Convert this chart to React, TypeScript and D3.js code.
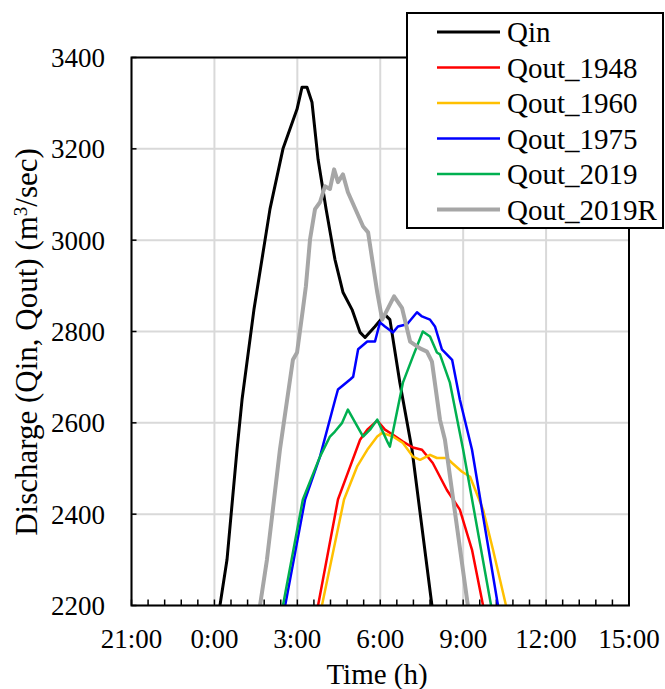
import React from "react";
import * as d3 from "d3";

// time in hours (relative to 0:00), discharge in m3/sec
const qinT = [0.2, 0.455, 0.817, 1.0, 1.43, 2.01, 2.48, 2.99, 3.17, 3.35, 3.53, 3.75, 4.04, 4.36, 4.65, 4.98, 5.27, 5.45, 5.81, 6.17, 6.35, 6.71, 7.15, 7.87];
const qinQ = [2200, 2300, 2541, 2651, 2848, 3068, 3200, 3287, 3335, 3335, 3302, 3177, 3068, 2958, 2886, 2848, 2798, 2787, 2811, 2837, 2826, 2688, 2541, 2200];

const q1948T = [3.75, 4.47, 4.91, 5.27, 5.53, 5.89, 6.17, 6.46, 6.82, 7.18, 7.51, 7.90, 8.41, 8.88, 9.32, 9.72];
const q1948Q = [2200, 2432, 2504, 2563, 2585, 2605, 2585, 2574, 2559, 2546, 2541, 2512, 2453, 2410, 2322, 2200];

const q1960T = [3.89, 4.69, 5.16, 5.53, 5.89, 6.07, 6.46, 6.82, 7.18, 7.44, 7.80, 8.05, 8.41, 8.60, 8.96, 9.25, 9.72, 10.08, 10.55];
const q1960Q = [2200, 2432, 2504, 2541, 2570, 2578, 2570, 2556, 2526, 2519, 2530, 2523, 2523, 2512, 2493, 2482, 2410, 2322, 2200];

const q1975T = [2.56, 3.28, 3.82, 4.37, 4.47, 4.91, 5.02, 5.20, 5.53, 5.81, 5.99, 6.17, 6.46, 6.64, 6.97, 7.33, 7.51, 7.80, 7.98, 8.23, 8.60, 8.88, 9.32, 10.26];
const q1975Q = [2200, 2432, 2526, 2651, 2673, 2695, 2701, 2761, 2778, 2778, 2820, 2811, 2798, 2811, 2816, 2842, 2833, 2826, 2811, 2761, 2738, 2651, 2541, 2200];

const q2019T = [2.48, 3.20, 3.82, 4.18, 4.36, 4.62, 4.83, 5.38, 5.63, 5.89, 6.28, 6.35, 6.82, 7.18, 7.54, 7.80, 8.05, 8.16, 8.52, 9.00, 10.01];
const q2019Q = [2200, 2432, 2526, 2570, 2581, 2600, 2629, 2570, 2585, 2607, 2556, 2548, 2688, 2745, 2800, 2789, 2754, 2750, 2688, 2541, 2200];

const q2019RT = [1.65, 1.90, 2.37, 2.84, 2.99, 3.20, 3.31, 3.46, 3.64, 3.82, 4.00, 4.18, 4.33, 4.47, 4.65, 4.83, 5.38, 5.56, 5.89, 6.07, 6.50, 6.79, 7.08, 7.44, 7.69, 7.87, 8.16, 8.34, 9.17];
const q2019RQ = [2200, 2300, 2541, 2738, 2754, 2848, 2899, 3002, 3068, 3083, 3118, 3112, 3155, 3127, 3144, 3105, 3030, 3017, 2886, 2826, 2877, 2851, 2778, 2763, 2756, 2734, 2607, 2563, 2200];

const seriesNames = ["Qin", "Qout_1948", "Qout_1960", "Qout_1975", "Qout_2019", "Qout_2019R"];
const seriesColors = ["#000000", "#ff0000", "#ffc000", "#0000ff", "#00b050", "#a6a6a6"];
const seriesWidths = [3, 2.5, 2.5, 2.5, 2.5, 4];
const seriesT = [qinT, q1948T, q1960T, q1975T, q2019T, q2019RT];
const seriesQ = [qinQ, q1948Q, q1960Q, q1975Q, q2019Q, q2019RQ];

const xTicks = [-3, 0, 3, 6, 9, 12, 15];
const yTicks = [2200, 2400, 2600, 2800, 3000, 3200, 3400];

const FONT = "'Liberation Serif', 'Times New Roman', serif";

export default function App() {
  const W = 665, H = 689;
  const left = 131.5, right = 629, top = 57.5, bottom = 605.5;
  const x = d3.scaleLinear().domain([-3, 15]).range([left, right]);
  const y = d3.scaleLinear().domain([2200, 3400]).range([bottom, top]);
  const minorTicks = d3.range(-3, 15.001, 0.6);
  const line = d3.line<[number, number]>().x(d => x(d[0])).y(d => y(d[1]));
  const fmt = (h: number) => `${(h + 24) % 24}:00`;

  const legX = 407, legY = 13, legW = 256, legH = 215;
  const rowY = (i: number) => 32 + i * 35.5;

  return (
    <svg width={W} height={H} style={{ position: "absolute", left: 0, top: 0, background: "#fff" }} fontFamily={FONT}>
      <defs>
        <clipPath id="plotClip">
          <rect x={left} y={top} width={right - left} height={bottom - top} />
        </clipPath>
      </defs>
      <rect x={0} y={0} width={W} height={H} fill="#fff" />
      {/* gridlines */}
      {xTicks.map(t => (
        <line key={"gx" + t} x1={x(t)} x2={x(t)} y1={top} y2={bottom} stroke="#d9d9d9" strokeWidth={2} />
      ))}
      {yTicks.map(v => (
        <line key={"gy" + v} x1={left} x2={right} y1={y(v)} y2={y(v)} stroke="#d9d9d9" strokeWidth={2} />
      ))}
      {/* ticks */}
      {minorTicks.map((t, i) => (
        <line key={"mt" + i} x1={x(t)} x2={x(t)} y1={bottom} y2={bottom - 6} stroke="#000" strokeWidth={1.5} />
      ))}
      {yTicks.map(v => (
        <line key={"yt" + v} x1={left} x2={left + 5} y1={y(v)} y2={y(v)} stroke="#000" strokeWidth={1.5} />
      ))}
      {/* series */}
      <g clipPath="url(#plotClip)">
        {seriesNames.map((n, i) => (
          <path
            key={n}
            d={line(seriesT[i].map((t, j) => [t, seriesQ[i][j]] as [number, number])) || ""}
            fill="none"
            stroke={seriesColors[i]}
            strokeWidth={seriesWidths[i]}
            strokeLinejoin="round"
          />
        ))}
      </g>
      {/* frame */}
      <rect x={left} y={top} width={right - left} height={bottom - top} fill="none" stroke="#000" strokeWidth={2} />
      {/* tick labels */}
      {yTicks.map(v => (
        <text key={"yl" + v} x={105} y={y(v)} dy="0.35em" textAnchor="end" fontSize={27} fill="#000">{v}</text>
      ))}
      {xTicks.map(t => (
        <text key={"xl" + t} x={x(t)} y={648} textAnchor="middle" fontSize={27} fill="#000">{fmt(t)}</text>
      ))}
      <text x={377} y={684} textAnchor="middle" fontSize={29} fill="#000">Time (h)</text>
      <text transform={`translate(37, 342) rotate(-90)`} textAnchor="middle" fontSize={31} fill="#000">
        Discharge (Qin, Qout) (m<tspan baselineShift="super" fontSize={19}>3</tspan>/sec)
      </text>
      {/* legend */}
      <rect x={legX} y={legY} width={legW} height={legH} fill="#fff" stroke="#000" strokeWidth={2} />
      {seriesNames.map((n, i) => (
        <g key={"lg" + n}>
          <line x1={437} x2={500} y1={rowY(i)} y2={rowY(i)} stroke={seriesColors[i]} strokeWidth={seriesWidths[i]} />
          <text x={507} y={rowY(i)} dy="0.35em" fontSize={29} fill="#000">{n}</text>
        </g>
      ))}
    </svg>
  );
}
